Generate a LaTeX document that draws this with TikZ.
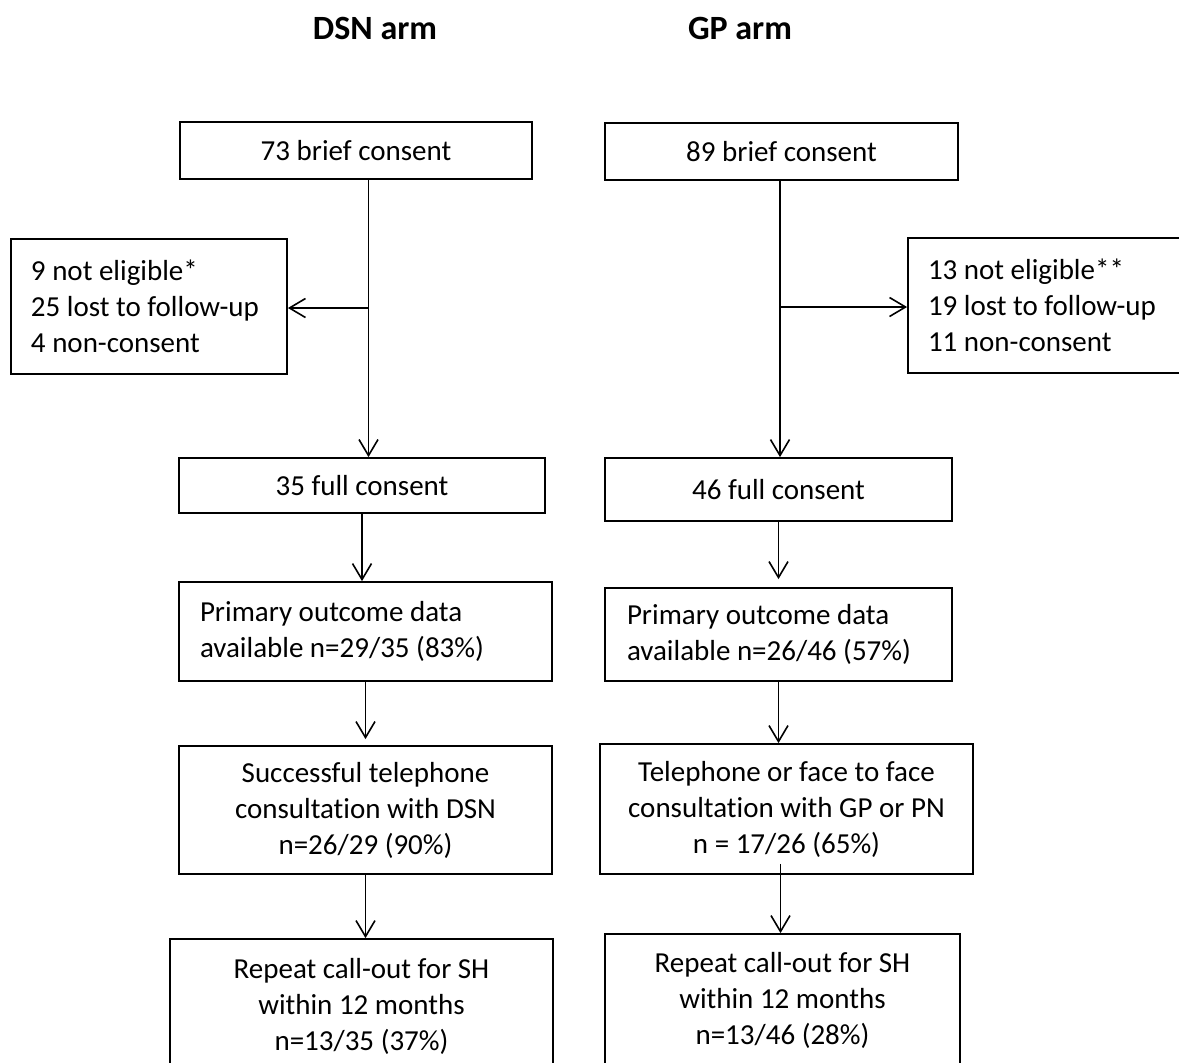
\documentclass[tikz,border=0pt]{standalone}
\usepackage{fontspec}
\setmainfont{Carlito}[Ligatures=CommonOff]
\usetikzlibrary{arrows.meta}

\begin{document}
\begin{tikzpicture}[x=0.5pt, y=-0.5pt,
    >={Straight Barb[length=8pt,width=9.5pt]},
    every node/.style={font=\fontsize{14.5}{18}\selectfont},
    flowbox/.style={draw, rectangle, line width=0.9pt, inner sep=0pt, align=center},
    listbox/.style={draw, rectangle, line width=0.9pt, inner ysep=0pt, align=flush left},
    link/.style={->, line width=0.8pt}]
    \useasboundingbox (0,0) rectangle (1179,1062);
    \clip (0,0) rectangle (1179,1062);

    % Arm titles
    \node[anchor=base, font=\fontsize{17}{20}\selectfont\bfseries] (title1) at (375,39) {DSN arm};
    \node[anchor=base, font=\fontsize{17}{20}\selectfont\bfseries] (title2) at (740,39) {GP arm};

    % DSN arm boxes
    \node[flowbox, minimum width=176pt, minimum height=28.5pt] (brief1) at (356,150.5) {73 brief consent};
    \node[listbox, text width=118pt, inner xsep=10pt, minimum height=67.5pt] (excl1) at (149,306.5)
        {\mbox{9 not eligible*}\\\mbox{25 lost to follow-up}\\\mbox{4 non-consent}};
    \node[flowbox, minimum width=183pt, minimum height=27.5pt] (full1) at (362,485.5) {35 full consent};
    \node[listbox, text width=165.5pt, inner xsep=10.5pt, minimum height=49.5pt] (data1) at (365.5,631.5)
        {Primary outcome data\\available n=29/35 (83\%)};
    \node[flowbox, minimum width=186.5pt, minimum height=64pt] (call1) at (365.5,810)
        {Successful telephone\\consultation with DSN\\n=26/29 (90\%)};
    \node[flowbox, minimum width=191.5pt, minimum height=67pt] (repeat1) at (361.5,1006)
        {Repeat call-out for SH\\within 12 months\\n=13/35 (37\%)};

    % GP arm boxes
    \node[flowbox, minimum width=176.5pt, minimum height=28.5pt] (brief2) at (781.5,151.5) {89 brief consent};
    \node[listbox, text width=126pt, inner xsep=10pt, minimum height=67.5pt] (excl2) at (1054,305.5)
        {\mbox{13 not eligible**}\\\mbox{19 lost to follow-up}\\\mbox{11 non-consent}};
    \node[flowbox, minimum width=173.5pt, minimum height=31.5pt] (full2) at (778.5,489.5) {46 full consent};
    \node[listbox, text width=151.5pt, inner xsep=11pt, minimum height=46.5pt] (data2) at (778.5,634.5)
        {Primary outcome data\\available n=26/46 (57\%)};
    \node[flowbox, minimum width=186.5pt, minimum height=65pt] (call2) at (786.5,809)
        {Telephone or face to face\\consultation with GP or PN\\n = 17/26 (65\%)};
    \node[flowbox, minimum width=177.5pt, minimum height=66pt] (repeat2) at (782.5,1000)
        {Repeat call-out for SH\\within 12 months\\n=13/46 (28\%)};

    % Branch points
    \coordinate (split1) at (368.5,308);
    \coordinate (split2) at (780,307);
    \coordinate (call2out) at ([xshift=-3pt,yshift=5.5pt]call2.south);

    % DSN arm arrows
    \draw[line width=0.8pt] (brief1.south -| split1) -- (split1);
    \draw[link] (split1) -- (excl1.east |- split1);
    \draw[link] (split1) -- (full1.north -| split1);
    \draw[link] (full1.south) -- (data1.north -| full1.south);
    \draw[link] (data1.south) -- ([yshift=3pt]call1.north);
    \draw[link] (call1.south) -- (repeat1.north -| call1.south);

    % GP arm arrows
    \draw[line width=0.8pt] (brief2.south -| split2) -- (split2);
    \draw[link] (split2) -- (excl2.west |- split2);
    \draw[link] (split2) -- (full2.north -| split2);
    \draw[link] (full2.south) -- ([yshift=4pt]data2.north);
    \draw[link] (data2.south) -- (call2.north -| data2.south);
    \draw[link] (call2out) -- (call2out |- repeat2.north);
\end{tikzpicture}
\end{document}
